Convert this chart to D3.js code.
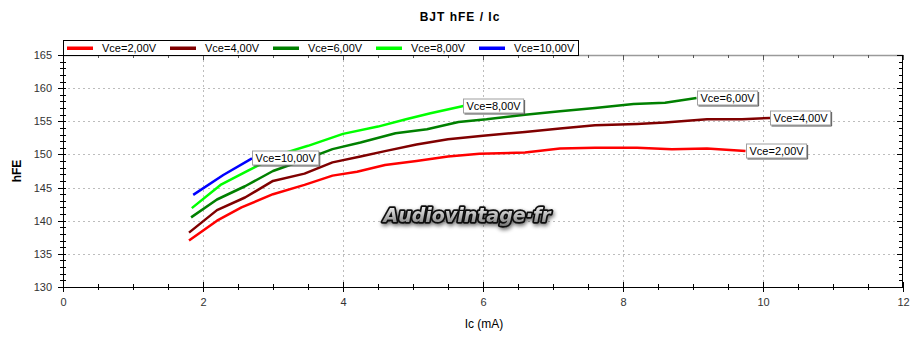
<!DOCTYPE html>
<html>
<head>
<meta charset="utf-8">
<script src="https://cdn.jsdelivr.net/npm/d3@7"></script>
<style>
  html, body { margin: 0; padding: 0; background: #fff; }
  svg { display: block; font-family: "Liberation Sans", Arial, sans-serif; }
</style>
</head>
<body>
<svg id="chart" width="920" height="340"></svg>
<script>
// ---- data ----
const seriesNames = ["Vce=2,00V", "Vce=4,00V", "Vce=6,00V", "Vce=8,00V", "Vce=10,00V"];
const seriesColors = ["#ff0000", "#800000", "#008000", "#00ff00", "#0000ff"];
const vce2 = [[1.8,137.0],[2.2,140.0],[2.55,142.0],[3.0,144.0],[3.45,145.4],[3.85,146.8],[4.2,147.4],[4.6,148.4],[5.05,149.0],[5.5,149.7],[5.95,150.1],[6.6,150.3],[7.1,150.9],[7.6,151.0],[8.2,151.0],[8.7,150.8],[9.2,150.9],[9.75,150.5]];
const vce4 = [[1.8,138.2],[2.2,141.6],[2.6,143.5],[3.0,146.0],[3.45,147.1],[3.85,148.8],[4.25,149.7],[4.6,150.5],[5.05,151.5],[5.5,152.3],[6.0,152.8],[6.6,153.4],[7.1,153.9],[7.6,154.4],[8.2,154.6],[8.6,154.8],[9.2,155.3],[9.7,155.3],[10.1,155.5]];
const vce6 = [[1.83,140.5],[2.2,143.2],[2.6,145.2],[3.0,147.5],[3.45,149.2],[3.85,150.8],[4.25,151.8],[4.75,153.2],[5.2,153.8],[5.65,154.9],[6.05,155.3],[6.6,156.0],[7.1,156.5],[7.6,157.0],[8.15,157.6],[8.6,157.8],[9.05,158.5]];
const vce8 = [[1.84,141.9],[2.25,145.4],[2.65,147.6],[3.1,150.0],[3.5,151.3],[4.0,153.1],[4.5,154.2],[4.9,155.3],[5.25,156.2],[5.72,157.3]];
const vce10 = [[1.86,143.9],[2.29,146.9],[2.7,149.4]];
const seriesData = [vce2, vce4, vce6, vce8, vce10];
const xTicks = [0, 2, 4, 6, 8, 10, 12];
const yTicks = [130, 135, 140, 145, 150, 155, 160, 165];
const titleText = "BJT hFE / Ic";
const xLabel = "Ic (mA)";
const yLabel = "hFE";
const watermark = "Audiovintage·fr";

// ---- layout ----
const svg = d3.select("#chart");
const L = 63, R = 903, T = 55, B = 287;
const x = d3.scaleLinear().domain([0, 12]).range([L, R]);
const y = d3.scaleLinear().domain([130, 165]).range([B, T]);

const defs = svg.append("defs");
const grad = defs.append("linearGradient").attr("id", "wmg").attr("x1", 0).attr("y1", 0).attr("x2", 0).attr("y2", 1);
grad.append("stop").attr("offset", "0%").attr("stop-color", "#ffffff");
grad.append("stop").attr("offset", "100%").attr("stop-color", "#777777");
const flt = defs.append("filter").attr("id", "wms").attr("x", "-10%").attr("y", "-50%").attr("width", "120%").attr("height", "200%");
flt.append("feGaussianBlur").attr("in", "SourceAlpha").attr("stdDeviation", 2).attr("result", "b");
flt.append("feOffset").attr("in", "b").attr("dx", 1).attr("dy", 2).attr("result", "o");
flt.append("feComponentTransfer").attr("in", "o").attr("result", "s")
  .append("feFuncA").attr("type", "linear").attr("slope", 0.6);
const fm = flt.append("feMerge");
fm.append("feMergeNode").attr("in", "s");
fm.append("feMergeNode").attr("in", "SourceGraphic");

// title
svg.append("text").attr("x", 460).attr("y", 21).attr("text-anchor", "middle")
  .attr("font-size", 12).attr("font-weight", "bold").attr("letter-spacing", 1).attr("fill", "#000")
  .text(titleText);

// grid
const grid = svg.append("g").attr("stroke", "#bdbdbd").attr("stroke-width", 1).attr("stroke-dasharray", "2,3");
yTicks.filter(v => v > 130 && v < 165).forEach(v => {
  grid.append("line").attr("x1", L).attr("x2", R).attr("y1", Math.round(y(v)) + 0.5).attr("y2", Math.round(y(v)) + 0.5);
});
xTicks.filter(v => v > 0 && v < 12).forEach(v => {
  grid.append("line").attr("y1", T).attr("y2", B).attr("x1", Math.round(x(v)) + 0.5).attr("x2", Math.round(x(v)) + 0.5);
});

// watermark
svg.append("text").attr("x", 467).attr("y", 222).attr("text-anchor", "middle")
  .attr("font-family", "DejaVu Sans").attr("font-style", "italic").attr("font-weight", "bold")
  .attr("font-size", 19).attr("fill", "url(#wmg)").attr("stroke", "#111").attr("stroke-width", 3.5)
  .attr("stroke-linejoin", "round").attr("paint-order", "stroke").attr("filter", "url(#wms)")
  .text(watermark);

// axes
// bottom
const xMinor = d3.range(0, 12.001, 0.5);
const axB = svg.append("g").attr("transform", `translate(0,${B})`)
  .call(d3.axisBottom(x).tickValues(xTicks).tickSize(0).tickPadding(11).tickFormat(d3.format("d")));
axB.select(".domain").attr("stroke", "#000");
axB.selectAll("text").attr("font-size", 11).attr("fill", "#333").attr("font-family", "Liberation Sans");
const bt = svg.append("g").attr("stroke", "#000");
xMinor.forEach(v => {
  const major = Math.abs(v % 2) < 1e-9;
  const px = Math.round(x(v)) + 0.5;
  bt.append("line").attr("x1", px).attr("x2", px).attr("y1", major ? B - 5 : B - 3).attr("y2", major ? B + 5 : B + 3);
});
// top border
const tt = svg.append("g");
tt.append("line").attr("x1", L).attr("x2", R).attr("y1", T + 0.5).attr("y2", T + 0.5).attr("stroke", "#9a9a9a").attr("stroke-width", 1.5);
xMinor.forEach(v => {
  const major = Math.abs(v % 2) < 1e-9;
  const px = Math.round(x(v)) + 0.5;
  tt.append("line").attr("x1", px).attr("x2", px).attr("y1", T).attr("y2", T + (major ? 5 : 3)).attr("stroke", "#555");
});
// left
const axL = svg.append("g").attr("transform", `translate(${L},0)`)
  .call(d3.axisLeft(y).tickValues(yTicks).tickSize(0).tickPadding(11));
axL.select(".domain").attr("stroke", "#000");
axL.selectAll("text").attr("font-size", 11).attr("fill", "#333").attr("font-family", "Liberation Sans");
const yMinor = d3.range(130, 165.001, 1);
const lt = svg.append("g").attr("stroke", "#000");
yMinor.forEach(v => {
  const major = v % 5 === 0;
  const py = Math.round(y(v)) + 0.5;
  lt.append("line").attr("x1", major ? L - 5 : L - 3).attr("x2", L + 3).attr("y1", py).attr("y2", py);
});
// right
const rt = svg.append("g").attr("stroke", "#000");
rt.append("line").attr("x1", R - 0.5).attr("x2", R - 0.5).attr("y1", T).attr("y2", B);
yMinor.forEach(v => {
  const major = v % 5 === 0;
  const py = Math.round(y(v)) + 0.5;
  rt.append("line").attr("x1", R - (major ? 6 : 4)).attr("x2", R).attr("y1", py).attr("y2", py);
});

// axis titles
svg.append("text").attr("x", 484).attr("y", 328).attr("text-anchor", "middle")
  .attr("font-size", 12).attr("fill", "#000").text(xLabel);
svg.append("text").attr("transform", "translate(21,171) rotate(-90)").attr("text-anchor", "middle")
  .attr("font-size", 12).attr("font-weight", "bold").attr("fill", "#000").text(yLabel);

// lines
const line = d3.line().x(d => x(d[0])).y(d => y(d[1]));
seriesData.forEach((s, i) => {
  svg.append("path").datum(s).attr("d", line).attr("fill", "none")
    .attr("stroke", seriesColors[i]).attr("stroke-width", 2.5).attr("stroke-linejoin", "round");
});

// end labels
seriesData.forEach((s, i) => {
  const last = s[s.length - 1];
  const lx = Math.round(x(last[0])) + 0.5, ly = Math.round(y(last[1]));
  const g = svg.append("g").attr("transform", `translate(${lx},${ly})`);
  const t = g.append("text").attr("x", 3).attr("y", 4).attr("font-size", 11).attr("fill", "#000").text(seriesNames[i]);
  const w = t.node().getComputedTextLength() + 6;
  g.insert("rect", "text").attr("x", 0).attr("y", -7).attr("width", w).attr("height", 14)
    .attr("fill", "#fff").attr("stroke", "#a0a0a0");
  g.insert("path", "text").attr("d", `M${w + 1},-6V8H1`).attr("fill", "none").attr("stroke", "#555");
});

// legend
const lg = svg.append("g");
lg.append("rect").attr("x", 63.5).attr("y", 40.5).attr("width", 515).attr("height", 15)
  .attr("fill", "#fff").attr("stroke", "#000");
seriesNames.forEach((n, i) => {
  const ox = 67 + i * 103;
  lg.append("rect").attr("x", ox).attr("y", 46.5).attr("width", 26).attr("height", 3.5).attr("fill", seriesColors[i]);
  lg.append("text").attr("x", ox + 35).attr("y", 52).attr("font-size", 11).attr("fill", "#000").text(n);
});
</script>
</body>
</html>
